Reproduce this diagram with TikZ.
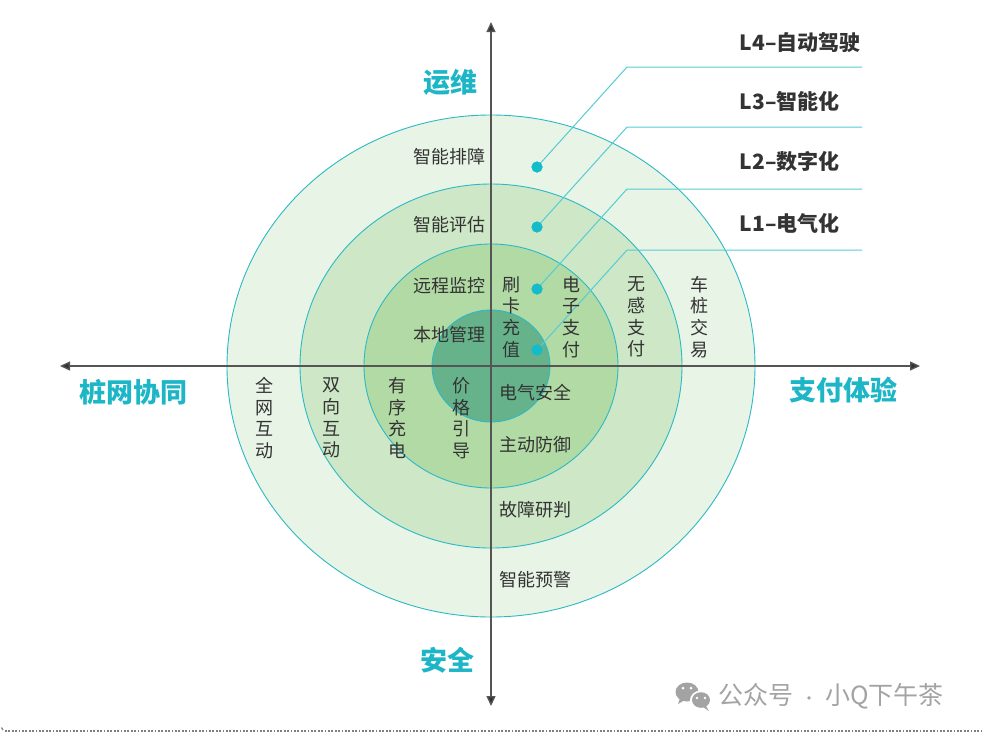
\documentclass[tikz,border=0pt]{standalone}
\usepackage{fontspec}
\setmainfont{Noto Sans CJK SC}
\usetikzlibrary{arrows.meta}
\definecolor{ringA}{HTML}{E8F4E5}
\definecolor{ringB}{HTML}{CDE7C7}
\definecolor{ringC}{HTML}{B2DAA5}
\definecolor{ringD}{HTML}{66B38B}
\definecolor{ringline}{HTML}{2BB9C6}
\definecolor{axiscol}{HTML}{555555}
\definecolor{cyantext}{HTML}{1DB6C6}
\definecolor{dotcol}{HTML}{14BBCA}
\definecolor{leadcol}{HTML}{55CCD5}
\definecolor{txt}{HTML}{333333}
\definecolor{wmcol}{HTML}{A3A3A3}
\definecolor{rulecol}{HTML}{808080}
\tikzset{
  ring/.style={draw=ringline, line width=0.9pt},
  axisline/.style={draw=axiscol, line width=1.3pt, {Triangle[length=10pt,width=9pt,fill=txt]}-{Triangle[length=10pt,width=9pt,fill=txt]}},
  axislabel/.style={text=cyantext, font=\fontsize{27}{30}\selectfont\bfseries, inner sep=0pt},
  levellabel/.style={text=txt, font=\fontsize{21}{24}\selectfont\bfseries, inner sep=0pt, anchor=east},
  inlabel/.style={text=txt, font=\fontsize{18}{21.7}\selectfont, inner sep=0pt, align=center},
  leaddot/.style={circle, fill=dotcol, minimum size=11pt, inner sep=0pt},
  leader/.style={draw=leadcol, line width=1pt},
  wm/.style={text=wmcol, font=\fontsize{25}{28}\selectfont, inner sep=0pt}
}
\begin{document}
\begin{tikzpicture}[x=1pt,y=-1pt]
\useasboundingbox (0,0) rectangle (982,734);
% rings
\draw[ring, fill=ringA] (491,366) ellipse [x radius=264pt, y radius=251pt];
\draw[ring, fill=ringB] (491,366) ellipse [x radius=191pt, y radius=182pt];
\draw[ring, fill=ringC] (491,366) ellipse [x radius=127pt, y radius=122pt];
\draw[ring, fill=ringD] (491,366) ellipse [x radius=59pt, y radius=56pt];
% axes
\coordinate (axL) at (60,366);
\coordinate (axR) at (920,366);
\coordinate (axT) at (491,22);
\coordinate (axB) at (491,706);
\draw[axisline] (axL) -- (axR);
\draw[axisline] (axB) -- (axT);
% axis labels
\node[axislabel] (yunwei) at (450,82) {运维};
\node[axislabel] (zhuang) at (133,392) {桩网协同};
\node[axislabel] (zhifu) at (843,390) {支付体验};
\node[axislabel] (anquan) at (447,660) {安全};
% level labels
\node[levellabel] (L4) at (861,43) {L4–自动驾驶};
\node[levellabel] (L3) at (840,101) {L3–智能化};
\node[levellabel] (L2) at (840,161) {L2–数字化};
\node[levellabel] (L1) at (840,223) {L1–电气化};
% leader lines
\node[leaddot] (d4) at (537,167) {};
\node[leaddot] (d3) at (537,227) {};
\node[leaddot] (d2) at (537,289) {};
\node[leaddot] (d1) at (537,350) {};
\coordinate (k4) at (627,67);  \coordinate (e4) at (862,67);
\coordinate (k3) at (627,127); \coordinate (e3) at (862,127);
\coordinate (k2) at (627,189); \coordinate (e2) at (862,189);
\coordinate (k1) at (627,250); \coordinate (e1) at (862,250);
\draw[leader] (d4.center) -- (k4) -- (e4);
\draw[leader] (d3.center) -- (k3) -- (e3);
\draw[leader] (d2.center) -- (k2) -- (e2);
\draw[leader] (d1.center) -- (k1) -- (e1);
\node[leaddot] at (d4) {};
\node[leaddot] at (d3) {};
\node[leaddot] at (d2) {};
\node[leaddot] at (d1) {};
% upper-left labels
\node[inlabel] (t1) at (449,157) {智能排障};
\node[inlabel] (t2) at (449,225) {智能评估};
\node[inlabel] (t3) at (449,286) {远程监控};
\node[inlabel] (t4) at (449,335) {本地管理};
% upper-right vertical labels
\node[inlabel] (v1) at (511,317) {刷\\卡\\充\\值};
\node[inlabel] (v2) at (571,317) {电\\子\\支\\付};
\node[inlabel] (v3) at (636,317) {无\\感\\支\\付};
\node[inlabel] (v4) at (699,317) {车\\桩\\交\\易};
% lower-left vertical labels
\node[inlabel] (w1) at (264,418) {全\\网\\互\\动};
\node[inlabel] (w2) at (331,418) {双\\向\\互\\动};
\node[inlabel] (w3) at (397,418) {有\\序\\充\\电};
\node[inlabel] (w4) at (461,418) {价\\格\\引\\导};
% lower-right labels
\node[inlabel] (s1) at (535,393) {电气安全};
\node[inlabel] (s2) at (535,445) {主动防御};
\node[inlabel] (s3) at (535,510) {故障研判};
\node[inlabel] (s4) at (535,580) {智能预警};
% bottom dotted rule
\draw[draw=rulecol, line width=1.8pt, dash pattern=on 1.8pt off 1.6pt] (5,731) -- (982,731);
\draw[draw=rulecol, line width=1.2pt] (1.5,727.5) -- (3,730);
% watermark
\fill[wmcol] (687,692) ellipse [x radius=11.5pt, y radius=9.5pt];
\fill[wmcol] (680,698) -- (678,704) -- (685,700) -- cycle;
\fill[white] (701,700) ellipse [x radius=11pt, y radius=9.5pt];
\fill[wmcol] (701,700) ellipse [x radius=9pt, y radius=7.8pt];
\fill[wmcol] (706,706) -- (709,711) -- (703,707) -- cycle;
\fill[white] (683,688) circle [radius=1.5pt];
\fill[white] (691,688) circle [radius=1.5pt];
\fill[white] (697,698) circle [radius=1.3pt];
\fill[white] (705,698) circle [radius=1.3pt];
\node[wm, anchor=west] (wmt) at (718,696) {公众号\hspace{8pt}{\fontsize{16}{18}\selectfont ·}\hspace{8pt}小Q下午茶};
\end{tikzpicture}
\end{document}
